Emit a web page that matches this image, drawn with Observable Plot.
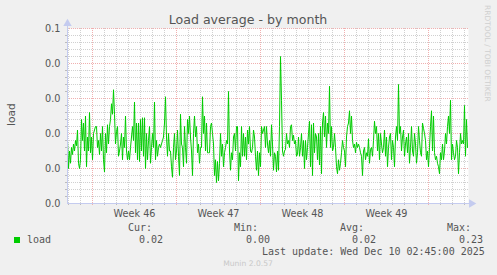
<!DOCTYPE html>
<html>
<head>
<meta charset="utf-8">
<script src="https://cdn.jsdelivr.net/npm/d3@7"></script>
<script src="https://cdn.jsdelivr.net/npm/@observablehq/plot@0.6"></script>
<style>
  html, body { margin: 0; padding: 0; background: #f0f0f0; }
  #wrap { position: relative; width: 497px; height: 275px; overflow: hidden; background: #f0f0f0; }
  #wrap > svg { position: absolute; left: 0; top: 0; }
  #overlay { pointer-events: none; }
</style>
</head>
<body>
<div id="wrap"></div>
<script>
// ---------- data ----------
const chartTitle = "Load average - by month";
const yAxisLabel = "load";
const startTime = "2025-11-06T22:00:00Z";
const stepHours = 2;
const loadValues = [
  0.036,0.020,0.030,0.023,0.032,0.028,0.034,0.030,0.036,0.033,
  0.042,0.023,0.020,0.025,0.048,0.036,0.046,0.030,0.050,0.021,
  0.038,0.030,0.052,0.029,0.038,0.025,0.040,0.042,0.044,0.044,
  0.032,0.036,0.028,0.040,0.030,0.044,0.025,0.018,0.040,0.029,
  0.045,0.034,0.044,0.048,0.057,0.051,0.065,0.051,0.034,0.041,
  0.044,0.027,0.030,0.034,0.040,0.025,0.038,0.032,0.050,0.030,
  0.025,0.030,0.025,0.032,0.038,0.044,0.036,0.058,0.029,0.046,
  0.025,0.046,0.024,0.048,0.030,0.049,0.027,0.049,0.020,0.040,
  0.025,0.036,0.044,0.023,0.032,0.040,0.032,0.058,0.025,0.036,
  0.027,0.032,0.034,0.032,0.034,0.036,0.038,0.046,0.061,0.038,
  0.027,0.040,0.030,0.030,0.021,0.015,0.032,0.040,0.025,0.030,
  0.042,0.027,0.016,0.051,0.034,0.032,0.021,0.044,0.032,0.023,
  0.048,0.040,0.050,0.038,0.030,0.016,0.040,0.050,0.038,0.044,
  0.029,0.034,0.023,0.032,0.032,0.061,0.040,0.050,0.030,0.046,
  0.029,0.029,0.029,0.044,0.046,0.040,0.034,0.016,0.025,0.012,
  0.024,0.013,0.023,0.040,0.027,0.034,0.021,0.029,0.032,0.036,
  0.034,0.064,0.030,0.019,0.029,0.025,0.038,0.040,0.030,0.044,
  0.044,0.013,0.029,0.021,0.044,0.027,0.040,0.027,0.038,0.025,
  0.042,0.034,0.044,0.030,
  0.029,0.032,0.042,0.038,0.027,0.019,0.030,0.016,0.029,0.021,
  0.044,0.040,0.042,0.044,0.032,0.044,0.034,0.029,0.036,0.027,
  0.045,0.034,0.019,0.029,0.027,0.018,0.030,0.019,0.044,0.084,
  0.059,0.030,0.027,0.030,0.031,0.040,0.034,0.036,0.032,0.044,
  0.045,0.036,0.039,0.034,0.036,0.027,0.028,0.038,0.027,0.032,
  0.040,0.027,0.036,0.020,0.036,0.025,0.032,0.040,0.047,0.021,
  0.045,0.016,0.046,0.029,0.040,0.038,0.025,0.040,0.022,0.044,
  0.017,0.046,0.052,0.038,0.050,0.032,0.046,0.040,0.067,0.032,
  0.044,0.030,0.032,0.040,0.032,0.021,0.017,0.025,0.019,0.023,
  0.029,0.036,0.032,0.030,0.021,0.038,0.044,0.046,0.053,0.040,
  0.050,0.036,0.032,0.034,0.029,0.035,0.032,0.034,0.032,0.029,
  0.027,0.016,0.030,0.032,0.025,0.029,0.027,0.037,0.023,0.031,
  0.032,0.027,0.036,0.047,0.040,0.044,0.030,0.040,0.025,0.040,
  0.034,0.029,0.032,0.042,0.027,0.038,0.021,0.032,0.038,0.040,
  0.025,0.036,0.032,0.021,0.038,0.044,0.036,0.068,0.040,0.044,
  0.030,0.038,0.042,0.027,0.034,0.038,0.029,0.040,0.023,0.032,
  0.044,0.030,0.027,0.040,0.034,0.023,0.029,0.044,0.036,0.029,
  0.027,0.046,0.043,0.040,0.036,0.025,0.030,0.021,0.032,0.044,
  0.053,0.030,0.050,0.029,0.025,0.027,0.023,0.021,0.017,0.029,
  0.025,0.034,0.025,0.030,0.040,0.034,0.044,0.050,0.040,0.059,
  0.025,0.034,0.029,0.025,0.027,0.036,0.032,0.017,0.029,0.040,
  0.034,0.036,0.034,0.056,0.027,0.048,0.032
];
const yTickValues = [0, 0.02, 0.04, 0.06, 0.08, 0.1];
const yTickLabels = ["0.0", "0.0", "0.0", "0.0", "0.0", "0.1"];
const weekLabels = ["Week 46", "Week 47", "Week 48", "Week 49"];
const legendHeaders = ["Cur:", "Min:", "Avg:", "Max:"];
const legendValues = ["0.02", "0.00", "0.02", "0.23"];
const seriesName = "load";
const lastUpdate = "Last update: Wed Dec 10 02:45:00 2025";
const footer = "Munin 2.0.57";
const sideText = "RRDTOOL / TOBI OETIKER";

// ---------- derived ----------
const HOUR = 3600e3;
const t0 = new Date(startTime);
const data = loadValues.map((v, i) => ({ t: new Date(+t0 + i * stepHours * HOUR), v }));
const tEnd = new Date(+t0 + (loadValues.length) * stepHours * HOUR);
const weekStarts = d3.utcSunday.range(t0, tEnd);
const dayLines = d3.utcDay.range(t0, tEnd).filter(d => d.getUTCDay() !== 0);
const weekMid = weekStarts.slice(0, weekLabels.length).map(d => d3.utcHour.offset(d, 84));
const yMinor = d3.range(0, 26).filter(i => i % 5 !== 0).map(i => i * 0.004);

const W = 497, H = 220, mL = 67, mR = 29, mT = 28, mB = 17;
const pxY = 0.1 / (H - mT - mB);           // data units per pixel (y)
const pxX = (+tEnd - +t0) / (W - mL - mR);  // ms per pixel (x)
const axisColor = "#c4cbef";
const green = "#00cc00";
const minorColor = "#d0d0d0";
const majorColor = "#f0b0b0";

const chart = Plot.plot({
  width: W, height: H,
  marginLeft: mL, marginRight: mR, marginTop: mT, marginBottom: mB,
  style: { background: "transparent", fontFamily: "DejaVu Sans", fontSize: "9.7px", color: "#555", overflow: "visible" },
  x: { type: "utc", domain: [t0, tEnd] },
  y: { domain: [0, 0.1] },
  marks: [
    Plot.frame({ fill: "white", stroke: null }),
    Plot.ruleY(yMinor, { stroke: minorColor, strokeDasharray: "1,1" }),
    Plot.ruleX(dayLines, { stroke: minorColor, strokeDasharray: "1,1" }),
    Plot.ruleY(yTickValues.slice(1), { stroke: majorColor, strokeDasharray: "1,1" }),
    Plot.ruleX(weekStarts, { stroke: majorColor, strokeDasharray: "1,1" }),
    Plot.line(data, { x: "t", y: "v", stroke: green, strokeWidth: 1 }),
    // axis ticks
    Plot.axisY(yMinor, { tickSize: 2, tickFormat: () => "", stroke: "#bbb", label: null }),
    Plot.axisX(dayLines, { tickSize: 2, tickFormat: () => "", stroke: "#bbb", label: null }),
    Plot.axisX(weekStarts, { tickSize: 2, tickFormat: () => "", stroke: majorColor, label: null }),
    // axis lines with arrows
    Plot.ruleX([t0], { y1: 0, y2: 0.1 + 3 * pxY, stroke: axisColor }),
    Plot.ruleY([0], { x1: t0, x2: new Date(+tEnd + 2 * pxX), stroke: axisColor }),
    Plot.dot([t0], { x: d => d, y: 0.1 + 5 * pxY, symbol: "triangle", r: 3.1, fill: axisColor, stroke: null }),
    Plot.dot([tEnd], { x: d => new Date(+d + 3 * pxX), y: 0, symbol: "triangle", rotate: 90, r: 3.1, fill: axisColor, stroke: null }),
    // labelled axes
    Plot.axisY(yTickValues, { tickSize: 0, tickPadding: 7, tickFormat: d => yTickLabels[yTickValues.indexOf(d)], label: null }),
    Plot.axisX(weekMid, { tickSize: 0, tickPadding: 7, tickFormat: d => weekLabels[weekMid.findIndex(w => +w === +d)], label: null })
  ]
});

const wrap = document.getElementById("wrap");
wrap.appendChild(chart);

// ---------- overlay texts (title, labels, legend) ----------
const ov = d3.select(wrap).append("svg")
  .attr("id", "overlay").attr("width", 497).attr("height", 275);

ov.append("text").attr("x", 248).attr("y", 24).attr("text-anchor", "middle")
  .attr("font-family", "DejaVu Sans").attr("font-size", 12.6).attr("fill", "#555").text(chartTitle);

ov.append("text").attr("transform", "translate(14.5,114.7) rotate(-90)").attr("text-anchor", "middle")
  .attr("font-family", "DejaVu Sans").attr("font-size", 10.6).attr("fill", "#555").text(yAxisLabel);

ov.append("text").attr("transform", "translate(485,5) rotate(90)").attr("text-anchor", "start")
  .attr("font-family", "DejaVu Sans").attr("font-size", 7.5).attr("fill", "#cfcfcf").text(sideText);

const mono = "DejaVu Sans Mono";
const headerX = [128, 234, 340, 447];
const valueX = [139, 246, 352, 459];
legendHeaders.forEach((h, i) => {
  ov.append("text").attr("x", headerX[i]).attr("y", 231)
    .attr("font-family", mono).attr("font-size", 10).attr("fill", "#555").text(h);
});
legendValues.forEach((v, i) => {
  ov.append("text").attr("x", valueX[i]).attr("y", 243.3)
    .attr("font-family", mono).attr("font-size", 10).attr("fill", "#555").text(v);
});
ov.append("rect").attr("x", 14).attr("y", 237).attr("width", 6).attr("height", 6).attr("fill", green);
ov.append("text").attr("x", 27).attr("y", 243.3)
  .attr("font-family", mono).attr("font-size", 10).attr("fill", "#555").text(seriesName);
ov.append("text").attr("x", 262).attr("y", 255.3)
  .attr("font-family", mono).attr("font-size", 10).attr("fill", "#555").text(lastUpdate);
ov.append("text").attr("x", 248).attr("y", 266.3).attr("text-anchor", "middle")
  .attr("font-family", "DejaVu Sans").attr("font-size", 7.6).attr("fill", "#c8c8c8").text(footer);
</script>
</body>
</html>
